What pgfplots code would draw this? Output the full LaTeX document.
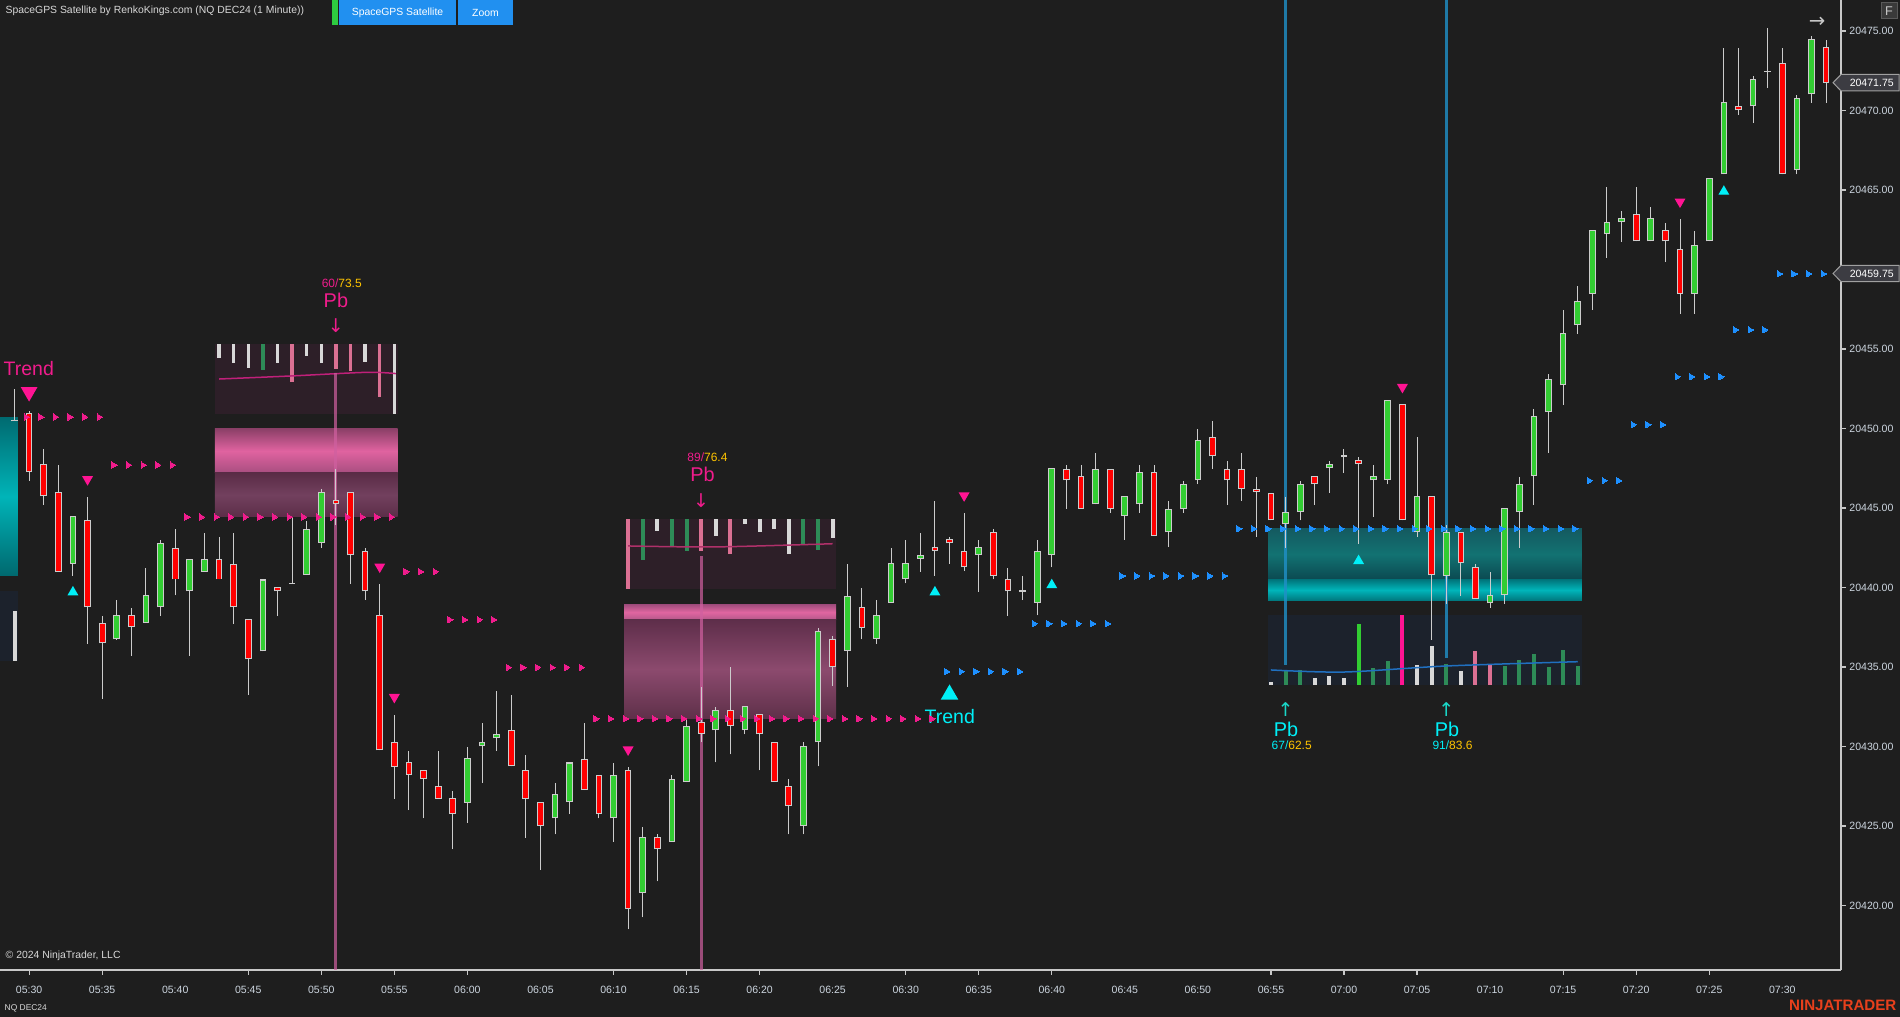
\documentclass[border=0pt]{standalone}
\usepackage{fontspec}
\setmainfont{Liberation Sans}
\newfontfamily\dejavu{DejaVu Sans}
\usepackage{pgfplots}
\pgfplotsset{compat=1.18}
\usepackage{pgfplotstable}
\definecolor{bg}{HTML}{1E1E1E}
\definecolor{axisgrey}{HTML}{C8C8C8}
\definecolor{ticklab}{HTML}{CDD6E0}
\definecolor{wick}{HTML}{CCCCCC}
\definecolor{cgreen}{HTML}{32CD32}
\definecolor{cred}{HTML}{FF0000}
\definecolor{ppink}{HTML}{F01C8C}
\definecolor{dblue}{HTML}{1E90FF}
\definecolor{cyanc}{HTML}{00F0F8}
\definecolor{cyanar}{HTML}{1AD8C8}
\definecolor{gold}{HTML}{FFC400}
\definecolor{hwhite}{HTML}{D8D8D8}
\definecolor{hgreen}{HTML}{2E8B57}
\definecolor{hpink}{HTML}{DB7093}
\definecolor{hbox1}{HTML}{2D1F28}
\definecolor{hbox3}{HTML}{1C222C}
\definecolor{vpink}{HTML}{D060A0}
\definecolor{vblue}{HTML}{2090C8}
\definecolor{titlec}{HTML}{D8D8D8}
\definecolor{btn}{HTML}{2190F0}
\definecolor{greenbar}{HTML}{2ECC40}
\definecolor{ninja}{HTML}{E8401C}
\definecolor{pbox}{HTML}{3C3C42}
\definecolor{pboxd}{HTML}{A0A0A0}
\definecolor{fbox}{HTML}{3A3A3A}
\definecolor{fboxd}{HTML}{5A5A5A}
\definecolor{tealA}{HTML}{006A70}
\definecolor{tealB}{HTML}{00686E}
\definecolor{tealC}{HTML}{00B4B8}
\definecolor{pkA}{HTML}{8C4068}
\definecolor{pkB}{HTML}{A84E80}
\definecolor{pkC}{HTML}{E063A0}
\definecolor{pkD}{HTML}{5A2C46}
\definecolor{pkE}{HTML}{5C2E48}
\definecolor{pkF}{HTML}{72405E}
\definecolor{maA}{HTML}{C0207A}
\definecolor{pkG}{HTML}{A04C7C}
\definecolor{pkH}{HTML}{B4578A}
\definecolor{pkI}{HTML}{E066A0}
\definecolor{pkJ}{HTML}{5E2E4A}
\definecolor{pkK}{HTML}{5E3049}
\definecolor{pkL}{HTML}{8C4A6E}
\definecolor{maB}{HTML}{B0306A}
\definecolor{tlA}{HTML}{145A60}
\definecolor{tlB}{HTML}{0B4850}
\definecolor{tlC}{HTML}{127272}
\definecolor{tlD}{HTML}{00787E}
\definecolor{tlE}{HTML}{007A80}
\definecolor{tlF}{HTML}{00B5BA}
\definecolor{dpink}{HTML}{FF1493}
\definecolor{maC}{HTML}{2070C0}
\newcommand{\fs}[1]{\fontsize{#1}{#1}\selectfont}
\pgfplotsset{
  errs/.style n args={2}{draw=none, mark=none, forget plot,
    error bars/.cd, y dir=plus, y explicit, error mark=none,
    error bar style={line width=#1, draw=#2, line cap=butt}},
  pmk/.style={only marks, forget plot, color=ppink, mark=triangle*, mark size=1.0pt, mark options={rotate=-90, draw=ppink, fill=ppink, line width=0pt}},
  bmk/.style={only marks, forget plot, color=dblue, mark=triangle*, mark size=1.0pt, mark options={rotate=-90, draw=dblue, fill=dblue, line width=0pt}},
}
\pgfplotstableread{
i O H L C
0 20451.00 20451.10 20446.70 20447.25
1 20447.75 20448.71 20445.21 20445.73
2 20445.98 20447.70 20441.00 20441.00
4 20444.22 20445.69 20436.47 20438.75
5 20437.75 20438.20 20433.00 20436.49
7 20438.25 20438.70 20435.70 20437.50
10 20442.50 20443.70 20439.50 20440.50
13 20441.77 20443.20 20440.50 20440.50
14 20441.50 20443.40 20437.70 20438.75
15 20438.00 20438.00 20433.26 20435.48
17 20440.00 20440.00 20438.20 20439.76
21 20445.48 20447.45 20443.93 20445.23
22 20446.00 20446.00 20440.24 20442.02
23 20442.28 20442.50 20439.23 20439.76
24 20438.25 20440.20 20429.76 20429.76
25 20430.26 20431.98 20426.72 20428.73
26 20429.02 20429.72 20425.99 20428.23
27 20428.51 20428.51 20425.48 20427.98
28 20427.53 20429.72 20426.72 20426.72
29 20426.77 20427.17 20423.52 20425.74
33 20431.01 20433.23 20428.74 20428.74
34 20428.49 20429.47 20424.25 20426.72
35 20426.49 20426.49 20422.25 20424.98
38 20429.24 20431.49 20427.25 20427.25
39 20428.23 20428.23 20425.48 20425.74
41 20428.49 20428.71 20418.49 20419.76
43 20424.28 20424.47 20421.52 20423.52
46 20431.52 20433.74 20430.25 20430.79
48 20432.28 20434.97 20429.50 20431.27
50 20432.02 20432.02 20428.49 20430.76
51 20430.25 20430.25 20427.76 20427.76
52 20427.50 20427.98 20424.47 20426.24
55 20436.74 20436.96 20433.79 20434.97
57 20438.75 20439.96 20436.73 20437.48
62 20442.53 20445.44 20440.75 20442.29
63 20443.04 20443.18 20441.50 20442.77
64 20442.27 20444.67 20441.02 20441.26
66 20443.47 20443.66 20440.51 20440.75
67 20440.51 20441.23 20438.22 20439.76
71 20447.47 20447.71 20444.96 20446.74
72 20446.99 20447.71 20444.96 20444.96
74 20447.47 20447.47 20444.70 20444.96
77 20447.25 20447.71 20443.23 20443.23
81 20449.49 20450.47 20447.47 20448.24
82 20447.47 20447.95 20445.20 20446.74
83 20447.47 20448.45 20445.44 20446.21
84 20446.21 20446.96 20443.18 20446.00
85 20445.97 20445.97 20444.22 20444.22
88 20446.99 20446.99 20445.21 20446.49
91 20448.00 20448.19 20442.76 20447.75
94 20451.52 20451.52 20444.22 20444.22
96 20445.73 20445.73 20436.72 20440.76
98 20443.47 20443.47 20439.49 20441.52
99 20441.27 20441.48 20439.26 20439.26
110 20463.47 20465.19 20461.77 20461.77
112 20462.46 20462.92 20460.49 20461.77
113 20461.27 20463.17 20457.22 20458.48
117 20470.26 20473.93 20469.74 20470.01
120 20472.96 20473.93 20465.98 20465.98
123 20473.97 20474.43 20470.49 20471.75
}\redc
\pgfplotstableread{
i O H L C
3 20441.50 20444.50 20440.75 20444.48
6 20436.74 20439.20 20436.70 20438.25
8 20437.75 20441.20 20437.75 20439.50
9 20438.75 20442.99 20438.20 20442.78
11 20439.76 20441.77 20435.70 20441.77
12 20441.00 20443.40 20441.00 20441.77
16 20435.98 20440.50 20435.98 20440.50
19 20440.77 20444.20 20440.77 20443.70
20 20442.78 20446.20 20442.50 20446.00
30 20426.47 20429.97 20425.20 20429.27
31 20430.00 20431.49 20427.73 20430.25
32 20430.51 20433.48 20429.72 20430.76
36 20425.48 20427.73 20424.47 20427.00
37 20426.49 20428.99 20425.74 20428.99
40 20425.48 20428.96 20423.99 20428.23
42 20420.77 20424.95 20419.25 20424.28
44 20424.02 20428.23 20424.02 20427.98
45 20427.76 20431.74 20427.76 20431.27
47 20431.01 20432.50 20428.99 20432.28
49 20431.01 20432.53 20430.76 20432.53
53 20424.98 20430.25 20424.47 20430.00
54 20430.25 20437.44 20428.74 20437.25
56 20436.01 20441.48 20433.76 20439.49
58 20436.76 20439.21 20436.47 20438.25
59 20439.02 20442.48 20439.02 20441.52
60 20440.51 20442.99 20440.25 20441.52
61 20441.79 20443.42 20440.99 20442.03
65 20442.03 20442.99 20439.74 20442.53
69 20439.02 20442.99 20438.25 20442.27
70 20442.03 20447.49 20441.26 20447.49
73 20445.23 20448.45 20445.23 20447.47
75 20444.48 20445.73 20443.01 20445.73
76 20445.23 20447.71 20444.70 20447.25
78 20443.47 20445.44 20442.53 20444.96
79 20444.96 20446.70 20444.70 20446.48
80 20446.74 20449.97 20446.50 20449.25
86 20443.97 20445.67 20442.50 20444.73
87 20444.73 20446.68 20444.22 20446.49
89 20447.49 20447.96 20445.96 20447.75
92 20446.74 20447.70 20444.45 20446.99
93 20446.74 20451.77 20446.49 20451.77
95 20443.47 20449.47 20443.20 20445.73
97 20440.74 20443.93 20438.96 20443.47
100 20439.00 20440.97 20438.73 20439.51
101 20439.51 20444.98 20438.98 20444.98
102 20444.73 20446.95 20442.50 20446.49
103 20446.99 20451.23 20445.21 20450.76
104 20451.02 20453.40 20448.48 20453.10
105 20452.71 20457.45 20451.50 20455.98
106 20456.49 20458.96 20455.96 20458.02
107 20458.48 20462.46 20457.47 20462.46
108 20462.21 20465.19 20460.74 20462.96
109 20462.96 20463.68 20461.75 20463.22
111 20461.77 20463.93 20461.77 20463.22
114 20458.48 20462.42 20457.22 20461.52
115 20461.77 20465.73 20461.77 20465.73
116 20465.98 20473.93 20465.98 20470.51
118 20470.26 20472.17 20469.23 20471.96
121 20466.24 20470.97 20465.98 20470.76
122 20471.01 20474.68 20470.49 20474.47
}\greenc
\pgfplotstableread{
i P H L
-1 20450.50 20452.50 20450.50
18 20440.26 20444.40 20440.26
68 20439.76 20440.73 20439.21
90 20448.25 20448.71 20447.22
119 20472.46 20475.19 20471.43
}\dojic
\begin{document}
\begin{tikzpicture}
\fill[bg] (0,0) rectangle (190mm,101.7mm);
\begin{axis}[
  at={(0mm,101.7mm)}, anchor=north west,
  scale only axis, width=184.07mm, height=97mm,
  xmin=-1.992, xmax=124.0, ymin=20415.94, ymax=20476.95,
  axis x line*=bottom, axis y line*=right,
  axis line style={draw=axisgrey, line width=0.17mm},
  tick align=outside, major tick length=0.5mm,
  xtick={0,5,...,120},
  xticklabels={05:30,05:35,05:40,05:45,05:50,05:55,06:00,06:05,06:10,06:15,06:20,06:25,06:30,06:35,06:40,06:45,06:50,06:55,07:00,07:05,07:10,07:15,07:20,07:25,07:30},
  xtick style={draw=none},
  extra x ticks={0,5,15,20,25,30,40,45,50,60,65,70,85,90,95,105,110,115},
  extra x tick labels={},
  extra x tick style={xtick style={draw=axisgrey, line width=0.12mm}},
  ytick={20420,20425,20430,20435,20440,20445,20450,20455,20460,20465,20470,20475},
  yticklabels={20420.00,20425.00,20430.00,20435.00,20440.00,20445.00,20450.00,20455.00,,20465.00,20470.00,20475.00},
  ytick style={draw=axisgrey, line width=0.12mm},
  ticklabel style={font=\fs{3pt}, text=ticklab, inner sep=0pt},
  xticklabel style={yshift=-1.0mm},
  yticklabel style={anchor=west, xshift=0.3mm},
  clip=true,
]
% ---- left teal zone
\addplot[draw=none, top color=tealA, bottom color=tealB, middle color=tealC, forget plot] coordinates {(-2.5,20450.72)(-0.76,20450.72)(-0.76,20440.72)(-2.5,20440.72)};
\addplot[draw=none, fill=hbox3, forget plot] coordinates {(-2.5,20439.78)(-0.76,20439.78)(-0.76,20435.38)(-2.5,20435.38)};
\addplot[errs={0.35mm}{hwhite}] coordinates {(-0.97,20435.38) += (0,3.14)};
% ---- box 1 (pink)
\addplot[draw=none, fill=hbox1, forget plot] coordinates {(12.72,20455.31)(25.23,20455.31)(25.23,20450.93)(12.72,20450.93)};
\addplot[draw=none, top color=pkA, bottom color=pkB, middle color=pkC, forget plot] coordinates {(12.72,20449.97)(25.23,20449.97)(25.23,20447.2)(12.72,20447.2)};
\addplot[draw=none, top color=pkD, bottom color=pkE, middle color=pkF, forget plot] coordinates {(12.72,20447.2)(25.23,20447.2)(25.23,20444.45)(12.72,20444.45)};
\addplot[errs={0.33mm}{hwhite}] table[x=i, y=b, y error plus expr=20455.31-\thisrow{b}] {
i b
13 20454.45
14 20454.14
15 20453.82
17 20454.14
19 20454.58
20 20454.14
23 20454.20
25 20450.93
};
\addplot[errs={0.33mm}{hgreen}] table[x=i, y=b, y error plus expr=20455.31-\thisrow{b}] {
i b
16 20453.70
};
\addplot[errs={0.33mm}{hpink}] table[x=i, y=b, y error plus expr=20455.31-\thisrow{b}] {
i b
18 20452.94
21 20453.76
22 20453.64
24 20452.00
};
\addplot[color=maA, line width=0.15mm, smooth, forget plot] coordinates {(13,20453.11)(17.9,20453.3)(23.1,20453.53)(25.1,20453.45)};
% ---- box 2 (pink)
\addplot[draw=none, fill=hbox1, forget plot] coordinates {(40.86,20444.32)(55.23,20444.32)(55.23,20439.91)(40.86,20439.91)};
\addplot[draw=none, top color=pkG, bottom color=pkH, middle color=pkI, forget plot] coordinates {(40.72,20438.93)(55.23,20438.93)(55.23,20437.96)(40.72,20437.96)};
\addplot[draw=none, top color=pkJ, bottom color=pkK, middle color=pkL, forget plot] coordinates {(40.72,20437.96)(55.23,20437.96)(55.23,20431.74)(40.72,20431.74)};
\addplot[errs={0.4mm}{hwhite}] table[x=i, y=b, y error plus expr=20444.32-\thisrow{b}] {
i b
43 20443.56
47 20443.25
49 20443.98
50 20443.50
51 20443.67
52 20442.10
55 20443.11
};
\addplot[errs={0.4mm}{hgreen}] table[x=i, y=b, y error plus expr=20444.32-\thisrow{b}] {
i b
42 20441.74
44 20442.60
45 20442.30
53 20442.66
54 20442.35
};
\addplot[errs={0.4mm}{hpink}] table[x=i, y=b, y error plus expr=20444.32-\thisrow{b}] {
i b
41 20439.91
46 20442.30
48 20442.10
};
\addplot[color=maB, line width=0.15mm, smooth, forget plot] coordinates {(41,20442.61)(47,20442.55)(55,20442.75)};
% ---- box 3 (teal)
\addplot[draw=none, top color=tlA, bottom color=tlB, middle color=tlC, forget plot] coordinates {(84.8,20443.68)(106.29,20443.68)(106.29,20440.47)(84.8,20440.47)};
\addplot[draw=none, top color=tlD, bottom color=tlE, middle color=tlF, forget plot] coordinates {(84.8,20440.47)(106.29,20440.47)(106.29,20439.21)(84.8,20439.21)};
\addplot[draw=none, fill=hbox3, forget plot] coordinates {(84.8,20438.27)(106.29,20438.27)(106.29,20433.87)(84.8,20433.87)};
\addplot[errs={0.4mm}{hwhite}] table[x=i, y expr=20433.87, y error plus expr=\thisrow{t}-20433.87] {
i t
85 20434.08
88 20434.33
89 20434.43
90 20434.33
95 20435.13
96 20436.32
98 20434.75
};
\addplot[errs={0.4mm}{hgreen}] table[x=i, y expr=20433.87, y error plus expr=\thisrow{t}-20433.87] {
i t
86 20434.81
87 20434.81
92 20434.96
93 20435.38
97 20435.19
101 20435.06
102 20435.44
103 20435.82
104 20435.00
105 20436.07
106 20435.06
};
\addplot[errs={0.4mm}{cgreen}] table[x=i, y expr=20433.87, y error plus expr=\thisrow{t}-20433.87] {
i t
91 20437.70
};
\addplot[errs={0.4mm}{dpink}] table[x=i, y expr=20433.87, y error plus expr=\thisrow{t}-20433.87] {
i t
94 20438.27
};
\addplot[errs={0.4mm}{hpink}] table[x=i, y expr=20433.87, y error plus expr=\thisrow{t}-20433.87] {
i t
99 20436.00
100 20435.19
};
\addplot[color=maC, line width=0.15mm, smooth, forget plot] coordinates {(85,20434.81)(90,20434.68)(97,20435.06)(106,20435.33)};
% ---- vertical lines
\addplot[color=vpink, opacity=0.7, line width=0.3mm, forget plot] coordinates {(20.97,20453.47)(20.97,20415.94)};
\addplot[color=vpink, opacity=0.7, line width=0.3mm, forget plot] coordinates {(46.0,20441.98)(46.0,20415.94)};
\addplot[color=vblue, opacity=0.8, line width=0.3mm, forget plot] coordinates {(86.0,20476.95)(86.0,20435.13)};
\addplot[color=vblue, opacity=0.8, line width=0.3mm, forget plot] coordinates {(97.0,20476.95)(97.0,20435.57)};
% ---- stop markers
\addplot[pmk] coordinates {(-0.22,20450.72)(0.78,20450.72)(1.78,20450.72)(2.78,20450.72)(3.78,20450.72)(4.78,20450.72)
(5.78,20447.7)(6.78,20447.7)(7.78,20447.7)(8.78,20447.7)(9.78,20447.7)
(10.78,20444.43)(11.78,20444.43)(12.78,20444.43)(13.78,20444.43)(14.78,20444.43)(15.78,20444.43)(16.78,20444.43)(17.78,20444.43)(18.78,20444.43)(19.78,20444.43)(20.78,20444.43)(21.78,20444.43)(22.78,20444.43)(23.78,20444.43)(24.78,20444.43)
(25.78,20440.99)(26.78,20440.99)(27.78,20440.99)
(28.78,20437.97)(29.78,20437.97)(30.78,20437.97)(31.78,20437.97)
(32.78,20434.97)(33.78,20434.97)(34.78,20434.97)(35.78,20434.97)(36.78,20434.97)(37.78,20434.97)
(38.78,20431.74)(39.78,20431.74)(40.78,20431.74)(41.78,20431.74)(42.78,20431.74)(43.78,20431.74)(44.78,20431.74)(45.78,20431.74)(46.78,20431.74)(47.78,20431.74)(48.78,20431.74)(49.78,20431.74)(50.78,20431.74)(51.78,20431.74)(52.78,20431.74)(53.78,20431.74)(54.78,20431.74)(55.78,20431.74)(56.78,20431.74)(57.78,20431.74)(58.78,20431.74)(59.78,20431.74)(60.78,20431.74)(61.78,20431.74)};
\addplot[bmk] coordinates {(62.78,20434.71)(63.78,20434.71)(64.78,20434.71)(65.78,20434.71)(66.78,20434.71)(67.78,20434.71)
(68.78,20437.72)(69.78,20437.72)(70.78,20437.72)(71.78,20437.72)(72.78,20437.72)(73.78,20437.72)
(74.78,20440.72)(75.78,20440.72)(76.78,20440.72)(77.78,20440.72)(78.78,20440.72)(79.78,20440.72)(80.78,20440.72)(81.78,20440.72)
(82.78,20443.69)(83.78,20443.69)(84.78,20443.69)(85.78,20443.69)(86.78,20443.69)(87.78,20443.69)(88.78,20443.69)(89.78,20443.69)(90.78,20443.69)(91.78,20443.69)(92.78,20443.69)(93.78,20443.69)(94.78,20443.69)(95.78,20443.69)(96.78,20443.69)(97.78,20443.69)(98.78,20443.69)(99.78,20443.69)(100.78,20443.69)(101.78,20443.69)(102.78,20443.69)(103.78,20443.69)(104.78,20443.69)(105.78,20443.69)
(106.78,20446.72)(107.78,20446.72)(108.78,20446.72)
(109.78,20450.24)(110.78,20450.24)(111.78,20450.24)
(112.78,20453.25)(113.78,20453.25)(114.78,20453.25)(115.78,20453.25)
(116.78,20456.2)(117.78,20456.2)(118.78,20456.2)
(119.78,20459.72)(120.78,20459.72)(121.78,20459.72)(122.78,20459.72)};
% ---- candles
\addplot[errs={0.1mm}{wick}] table[x=i, y=L, y error plus expr=\thisrow{H}-\thisrow{L}] {\redc};
\addplot[errs={0.1mm}{wick}] table[x=i, y=L, y error plus expr=\thisrow{H}-\thisrow{L}] {\greenc};
\addplot[errs={0.1mm}{wick}] table[x=i, y=L, y error plus expr=\thisrow{H}-\thisrow{L}] {\dojic};
\addplot[errs={0.67mm}{wick}] table[x=i, y=C, y error plus expr=\thisrow{O}-\thisrow{C}] {\redc};
\addplot[errs={0.47mm}{cred}] table[x=i, y expr=\thisrow{C}+0.063, y error plus expr=\thisrow{O}-\thisrow{C}-0.126] {\redc};
\addplot[errs={0.67mm}{wick}] table[x=i, y=O, y error plus expr=\thisrow{C}-\thisrow{O}] {\greenc};
\addplot[errs={0.47mm}{cgreen}] table[x=i, y expr=\thisrow{O}+0.063, y error plus expr=\thisrow{C}-\thisrow{O}-0.126] {\greenc};
\addplot[errs={0.67mm}{wick}] table[x=i, y expr=\thisrow{P}-0.05, y error plus expr=0.1] {\dojic};
% ---- signal triangles
\addplot[only marks, forget plot, color=dpink, mark=triangle*, mark size=2.36pt, mark options={rotate=180, draw=none, fill=dpink}] coordinates {(0,20452.3)};
\addplot[only marks, forget plot, color=dpink, mark=triangle*, mark size=1.4pt, mark options={rotate=180, draw=none, fill=dpink}] coordinates {(4,20446.8)(24,20441.3)(25,20433.1)(41,20429.8)(64,20445.78)(94,20452.6)(113,20464.26)};
\addplot[only marks, forget plot, color=cyanc, mark=triangle*, mark size=1.4pt, mark options={draw=none, fill=cyanc}] coordinates {(3,20439.7)(62,20439.7)(70,20440.15)(91,20441.67)(116,20464.9)};
\addplot[only marks, forget plot, color=cyanc, mark=triangle*, mark size=2.5pt, mark options={draw=none, fill=cyanc}] coordinates {(63,20433.26)};
% ---- labels
\node[anchor=west, inner sep=0pt, text=ppink, font=\fs{5.55pt}] at (axis cs:-1.79,20453.74) {Trend};
\node[anchor=west, inner sep=0pt, text=cyanc, font=\fs{5.55pt}] at (axis cs:61.25,20431.87) {Trend};
\node[inner sep=0pt, font=\fs{3.41pt}] at (axis cs:21.4,20459.15) {\textcolor{ppink}{60/}\textcolor{gold}{73.5}};
\node[inner sep=0pt, text=ppink, font=\fs{5.66pt}] at (axis cs:21.0,20458.08) {Pb};
\node[inner sep=0pt, text=ppink, font=\dejavu\fs{5.4pt}] at (axis cs:21.0,20456.48) {↓};
\node[inner sep=0pt, font=\fs{3.41pt}] at (axis cs:46.43,20448.2) {\textcolor{ppink}{89/}\textcolor{gold}{76.4}};
\node[inner sep=0pt, text=ppink, font=\fs{5.66pt}] at (axis cs:46.09,20447.14) {Pb};
\node[inner sep=0pt, text=ppink, font=\dejavu\fs{5.4pt}] at (axis cs:46.0,20445.44) {↓};
\node[inner sep=0pt, text=cyanar, font=\dejavu\fs{5.4pt}] at (axis cs:86.0,20432.33) {↑};
\node[inner sep=0pt, text=cyanc, font=\fs{5.66pt}] at (axis cs:86.03,20431.07) {Pb};
\node[inner sep=0pt, font=\fs{3.41pt}] at (axis cs:86.42,20430.06) {\textcolor{cyanc}{67/}\textcolor{gold}{62.5}};
\node[inner sep=0pt, text=cyanar, font=\dejavu\fs{5.4pt}] at (axis cs:97.0,20432.33) {↑};
\node[inner sep=0pt, text=cyanc, font=\fs{5.66pt}] at (axis cs:97.05,20431.07) {Pb};
\node[inner sep=0pt, font=\fs{3.41pt}] at (axis cs:97.43,20430.06) {\textcolor{cyanc}{91/}\textcolor{gold}{83.6}};
\end{axis}
\begin{scope}[shift={(0mm,101.7mm)}, x=0.1mm, y=-0.1mm]
\node[anchor=west, inner sep=0pt, text=titlec, font=\fs{2.96pt}] at (5,11) {SpaceGPS Satellite by RenkoKings.com (NQ DEC24 (1 Minute))};
\fill[greenbar] (332,0) rectangle (338,25);
\fill[btn] (339,0) rectangle (456,25);
\fill[btn] (458,0) rectangle (513,25);
\node[text=white, inner sep=0pt, font=\fs{2.96pt}] at (397.5,12.5) {SpaceGPS Satellite};
\node[text=white, inner sep=0pt, font=\fs{2.96pt}] at (485.5,12.5) {Zoom};
\node[anchor=west, inner sep=0pt, text=titlec, font=\fs{2.96pt}] at (5,956) {© 2024 NinjaTrader, LLC};
\node[anchor=west, inner sep=0pt, text=titlec, font=\fs{2.4pt}] at (4,1008) {NQ DEC24};
\node[anchor=east, inner sep=0pt, text=ninja, font=\fs{4.3pt}\bfseries] at (1897,1005) {NINJATRADER};
\filldraw[fill=fbox, draw=fboxd, line width=0.1mm] (1881,3) rectangle (1897,19);
\node[text=axisgrey, inner sep=0pt, font=\fs{3.6pt}] at (1889,11) {F};
\node[text=axisgrey, inner sep=0pt, font=\dejavu\fs{5.6pt}] at (1817,22) {→};
\filldraw[fill=pbox, draw=pboxd, line width=0.1mm] (1833,82.7) -- (1841,74.5) -- (1899,74.5) -- (1899,91) -- (1841,91) -- cycle;
\node[anchor=west, inner sep=0pt, text=white, font=\fs{3pt}] at (1849,82.7) {20471.75};
\filldraw[fill=pbox, draw=pboxd, line width=0.1mm] (1833,273.5) -- (1841,265.3) -- (1899,265.3) -- (1899,281.7) -- (1841,281.7) -- cycle;
\node[anchor=west, inner sep=0pt, text=white, font=\fs{3pt}] at (1849,273.5) {20459.75};
\end{scope}
\pgfresetboundingbox
\path (0,0) rectangle (190mm,101.7mm);
\end{tikzpicture}
\end{document}
